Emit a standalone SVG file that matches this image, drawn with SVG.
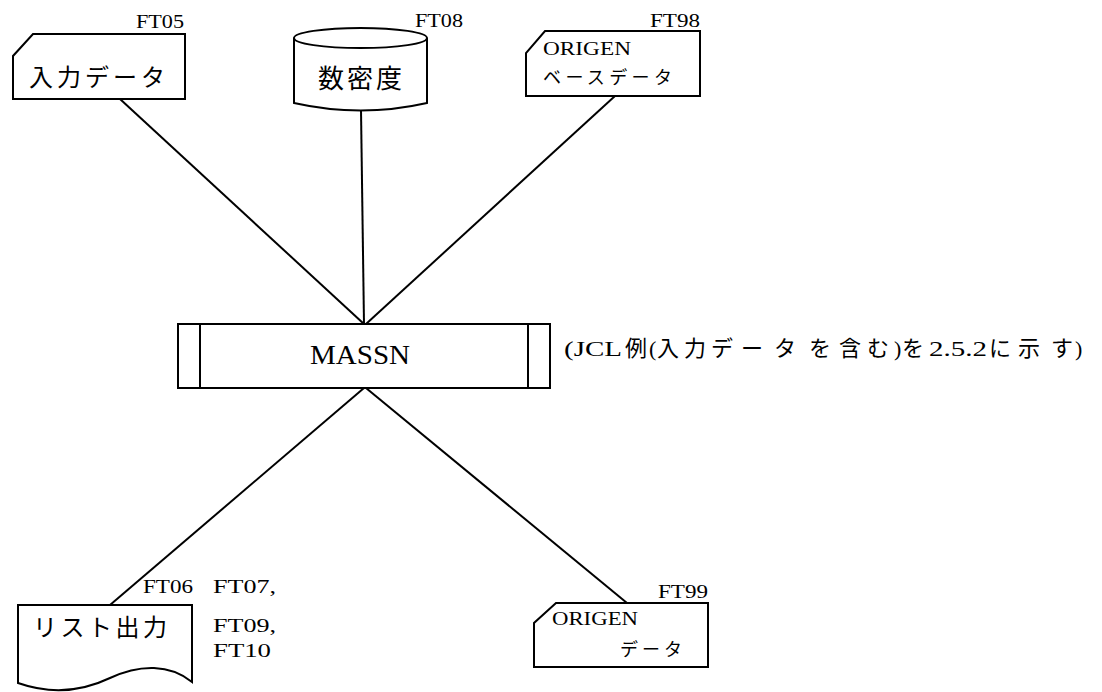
<svg xmlns="http://www.w3.org/2000/svg" width="1102" height="692" viewBox="0 0 1102 692">
<style>
.sh{fill:#fff;stroke:#000;stroke-width:2}
.ln{stroke:#000;stroke-width:2;fill:none}
.lat{font-family:"Liberation Serif","DejaVu Serif",serif;fill:#000}
.jp{font-family:"Noto Sans CJK JP",sans-serif;fill:#000}
</style>
<rect width="1102" height="692" fill="#fff"/>
<g id="connectors">
<line class="ln" x1="120" y1="99" x2="364" y2="324"/>
<line class="ln" x1="361" y1="110" x2="364" y2="324"/>
<line class="ln" x1="615" y1="96" x2="366" y2="324"/>
<line class="ln" x1="110" y1="605" x2="364" y2="388"/>
<line class="ln" x1="627" y1="603" x2="366" y2="388"/>
</g>
<g id="input">
<path class="sh" d="M33,34 L185,34 L185,99 L13,99 L13,56 Z"/>
<text class="lat" x="136" y="28" font-size="18" textLength="48" lengthAdjust="spacingAndGlyphs">FT05</text>
<text class="jp" x="29" y="86" font-size="24" textLength="136" lengthAdjust="spacing">入力データ</text>
</g>
<g id="density">
<path class="sh" d="M294,38 A66,10 0 0 1 427,38 L427,103 Q361,118 294,103 Z"/>
<path class="ln" d="M294,38 A66,10 0 0 0 427,38"/>
<text class="lat" x="415" y="27" font-size="18" textLength="48" lengthAdjust="spacingAndGlyphs">FT08</text>
<text class="jp" x="318" y="88" font-size="26" textLength="84" lengthAdjust="spacing">数密度</text>
</g>
<g id="origen-base">
<path class="sh" d="M545,31 L700,31 L700,96 L526,96 L526,53 Z"/>
<text class="lat" x="650" y="27" font-size="18" textLength="50" lengthAdjust="spacingAndGlyphs">FT98</text>
<text class="lat" x="543" y="55" font-size="19" textLength="88" lengthAdjust="spacingAndGlyphs">ORIGEN</text>
<text class="jp" x="543" y="84" font-size="18" textLength="129" lengthAdjust="spacing">ベースデータ</text>
</g>
<g id="massn">
<rect class="sh" x="178" y="324" width="372" height="64"/>
<line class="ln" x1="200" y1="324" x2="200" y2="388"/>
<line class="ln" x1="528" y1="324" x2="528" y2="388"/>
<text class="lat" x="360" y="364" font-size="27" text-anchor="middle" textLength="100" lengthAdjust="spacingAndGlyphs">MASSN</text>
</g>
<g id="note" font-size="22">
<text y="356"><tspan class="lat" x="564" textLength="58" lengthAdjust="spacingAndGlyphs">(JCL</tspan><tspan class="jp" x="625">例</tspan><tspan class="lat" x="649">(</tspan><tspan class="jp" x="657">入</tspan><tspan class="jp" x="684">力</tspan><tspan class="jp" x="711">デ</tspan><tspan class="jp" x="741">ー</tspan><tspan class="jp" x="774">タ</tspan><tspan class="jp" x="809">を</tspan><tspan class="jp" x="839">含</tspan><tspan class="jp" x="867">む</tspan><tspan class="lat" x="894">)</tspan><tspan class="jp" x="902">を</tspan><tspan class="lat" x="929" textLength="58" lengthAdjust="spacingAndGlyphs">2.5.2</tspan><tspan class="jp" x="989">に</tspan><tspan class="jp" x="1018">示</tspan><tspan class="jp" x="1051">す</tspan><tspan class="lat" x="1075">)</tspan></text>
</g>
<g id="list-output">
<path class="sh" d="M18,605 L192,605 L192,682 C170,664 140,664 110,678 C85,690 55,696 18,683 Z"/>
<text class="lat" x="143" y="593" font-size="18" textLength="50" lengthAdjust="spacingAndGlyphs">FT06</text>
<text class="lat" x="213" y="593" font-size="18" textLength="63" lengthAdjust="spacingAndGlyphs">FT07,</text>
<text class="lat" x="213" y="632" font-size="18" textLength="63" lengthAdjust="spacingAndGlyphs">FT09,</text>
<text class="lat" x="213" y="657" font-size="18" textLength="58" lengthAdjust="spacingAndGlyphs">FT10</text>
<text class="jp" x="33" y="636" font-size="24" textLength="134" lengthAdjust="spacing">リスト出力</text>
</g>
<g id="origen-data">
<path class="sh" d="M556,603 L708,603 L708,667 L534,667 L534,623 Z"/>
<text class="lat" x="658" y="598" font-size="18" textLength="50" lengthAdjust="spacingAndGlyphs">FT99</text>
<text class="lat" x="552" y="625" font-size="19" textLength="86" lengthAdjust="spacingAndGlyphs">ORIGEN</text>
<text class="jp" x="620" y="656" font-size="18" textLength="62" lengthAdjust="spacing">データ</text>
</g>
</svg>
